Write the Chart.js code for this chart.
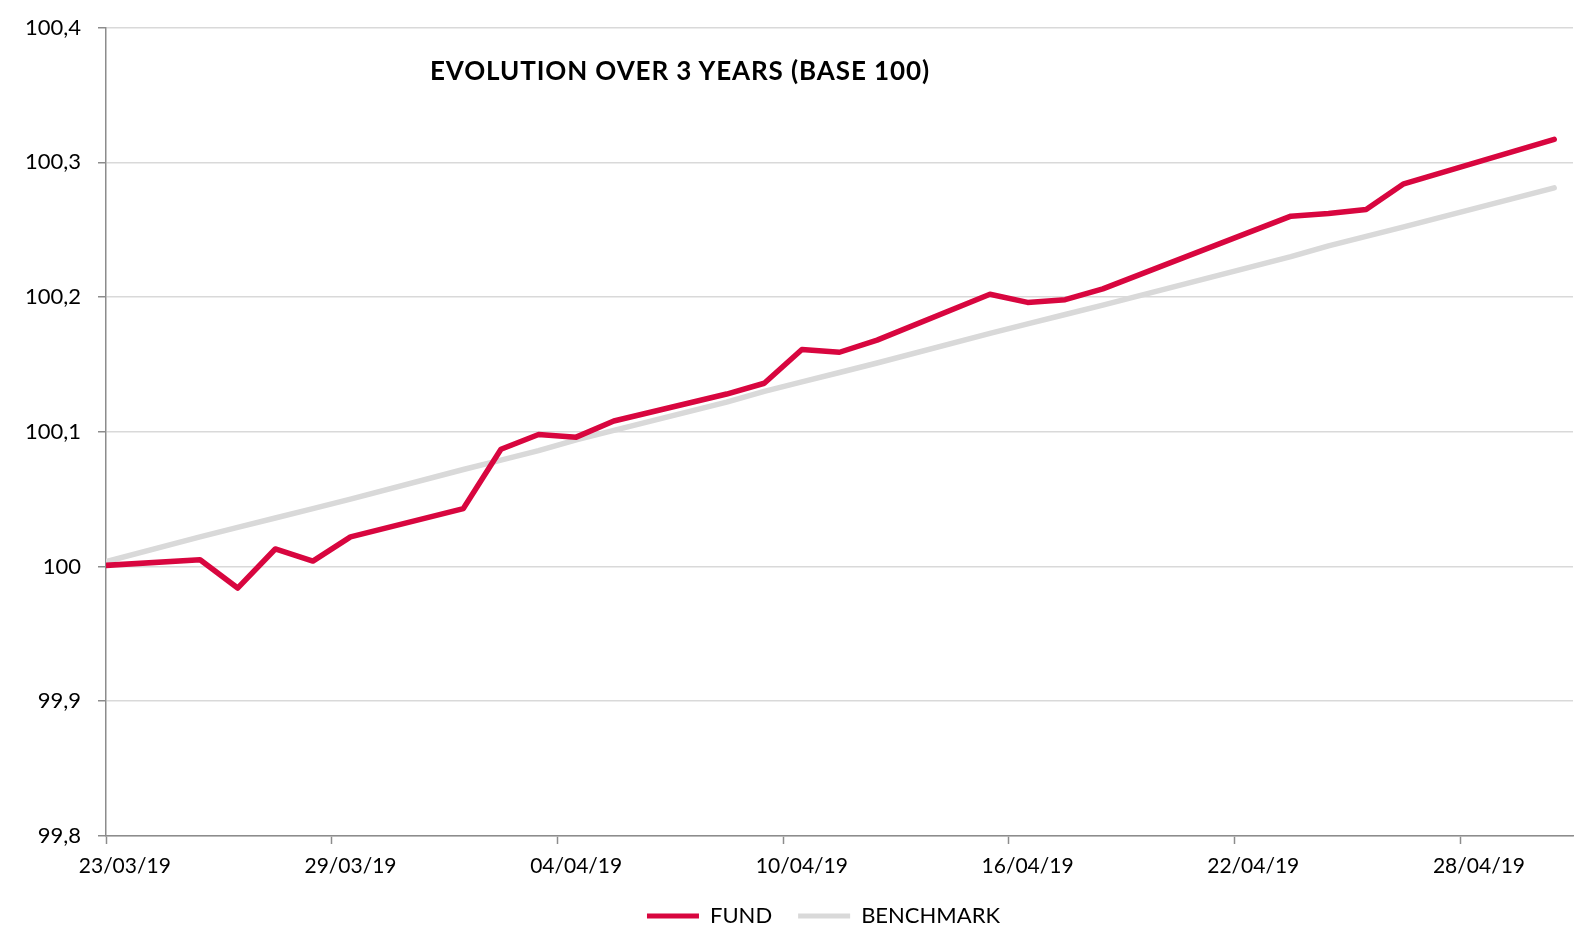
<!DOCTYPE html>
<html>
<head>
<meta charset="utf-8">
<script src="https://cdn.jsdelivr.net/npm/chart.js@4.4.1/dist/chart.umd.min.js"></script>
<style>
html,body{margin:0;padding:0;background:#fff;}
#wrap{position:relative;width:1584px;height:927px;}
#title{position:absolute;left:430px;top:54px;font-family:Lato,"Open Sans",sans-serif;font-weight:bold;font-size:26px;letter-spacing:0.9px;color:#000;white-space:nowrap;}
</style>
</head>
<body>
<div id="wrap">
<canvas id="c" width="1584" height="927"></canvas>
<div id="title">EVOLUTION OVER 3 YEARS (BASE 100)</div>
</div>
<script>
// ---- data ----
const dates = ['2019-03-22','2019-03-25','2019-03-26','2019-03-27','2019-03-28','2019-03-29',
  '2019-04-01','2019-04-02','2019-04-03','2019-04-04','2019-04-05',
  '2019-04-08','2019-04-09','2019-04-10','2019-04-11','2019-04-12',
  '2019-04-15','2019-04-16','2019-04-17','2019-04-18',
  '2019-04-23','2019-04-24','2019-04-25','2019-04-26','2019-04-30'];
const fund = [100.000,100.005,99.984,100.013,100.004,100.022,
  100.043,100.087,100.098,100.096,100.108,
  100.128,100.136,100.161,100.159,100.168,
  100.202,100.196,100.198,100.206,
  100.260,100.262,100.265,100.284,100.317];
const benchmark = [100.000,100.022,100.029,100.036,100.043,100.050,
  100.072,100.079,100.086,100.094,100.101,
  100.122,100.130,100.137,100.144,100.151,
  100.173,100.180,100.187,100.194,
  100.230,100.238,100.245,100.252,100.281];
const seriesNames = ['FUND','BENCHMARK'];
const xTickDates = ['2019-03-23','2019-03-29','2019-04-04','2019-04-10','2019-04-16','2019-04-22','2019-04-28'];
const xTickLabels = ['23/03/19','29/03/19','04/04/19','10/04/19','16/04/19','22/04/19','28/04/19'];
const yTickValues = [99.8,99.9,100,100.1,100.2,100.3,100.4];
const yTickLabels = ['99,8','99,9','100','100,1','100,2','100,3','100,4'];
const axisStart = '2019-03-23';
const axisEnd = '2019-05-01';

// ---- helpers ----
const DAY = 86400000;
function dayNum(s){ return (Date.parse(s+'T00:00:00Z') - Date.parse(axisStart+'T00:00:00Z'))/DAY; }
// daily points sit in the middle of their day (date axis "between tick marks")
const fundPts = dates.map((d,i)=>({x:dayNum(d)+0.5, y:fund[i]}));
const benchPts = dates.map((d,i)=>({x:dayNum(d)+0.5, y:benchmark[i]}));
const xTickVals = xTickDates.map(dayNum);

const FONT = 'Lato';
const AXIS = '#8c8c8c';
const GRID = '#d9d9d9';

const legendFix = {
  id:'legendFix',
  afterLayout(chart){
    const lg = chart.legend;
    const dx = 37, h = lg.bottom - lg.top;
    lg.left += dx; lg.right += dx;
    const newTop = 879;
    lg.top = newTop; lg.bottom = newTop + h;
  }
};

new Chart(document.getElementById('c'), {
  type:'line',
  data:{
    datasets:[
      {label:seriesNames[0], data:fundPts, borderColor:'#d8063f', backgroundColor:'#d8063f',
       borderWidth:5.5, pointRadius:0, tension:0, borderCapStyle:'round', borderJoinStyle:'round', clip:0},
      {label:seriesNames[1], data:benchPts, borderColor:'#d9d9d9', backgroundColor:'#d9d9d9',
       borderWidth:5.5, pointRadius:0, tension:0, borderCapStyle:'round', borderJoinStyle:'round', clip:0}
    ]
  },
  options:{
    responsive:false, animation:false,
    layout:{padding:{left:0,right:11,top:27.5,bottom:-27}},
    plugins:{
      tooltip:{enabled:false},
      legend:{
        position:'bottom',
        labels:{
          font:{family:FONT,size:22}, color:'#000',
          boxWidth:52, boxHeight:5, padding:26,
          generateLabels(chart){
            return chart.data.datasets.map((ds,i)=>({text:ds.label, fillStyle:ds.borderColor,
              strokeStyle:ds.borderColor, lineWidth:0, hidden:false, datasetIndex:i, fontColor:'#000'}));
          }
        }
      }
    },
    scales:{
      x:{
        type:'linear', min:dayNum(axisStart), max:dayNum(axisEnd),
        afterBuildTicks(scale){ scale.ticks = xTickVals.map(v=>({value:v})); },
        afterFit(scale){ scale.height = 60; },
        ticks:{font:{family:FONT,size:21}, color:'#000', padding:10, labelOffset:18.8, maxRotation:0, autoSkip:false,
          callback(v){ const i = xTickVals.indexOf(v); return i>=0 ? xTickLabels[i] : ''; }},
        grid:{drawOnChartArea:false, drawTicks:true, tickLength:8, tickColor:AXIS, tickWidth:1.5},
        border:{color:AXIS, width:1.5}
      },
      y:{
        min:yTickValues[0], max:yTickValues[yTickValues.length-1],
        afterBuildTicks(scale){ scale.ticks = yTickValues.map(v=>({value:v})); },
        afterFit(scale){ scale.width = 106; scale.paddingTop = 0; scale.paddingBottom = 0; },
        ticks:{font:{family:FONT,size:22}, color:'#000', padding:17, autoSkip:false,
          callback(v){ const i = yTickValues.findIndex(t=>Math.abs(t-v)<1e-9); return i>=0 ? yTickLabels[i] : ''; }},
        grid:{color:GRID, lineWidth:1.5, drawTicks:true, tickLength:8, tickColor:AXIS, tickWidth:1.5},
        border:{color:AXIS, width:1.5}
      }
    }
  },
  plugins:[legendFix]
});
</script>
</body>
</html>
